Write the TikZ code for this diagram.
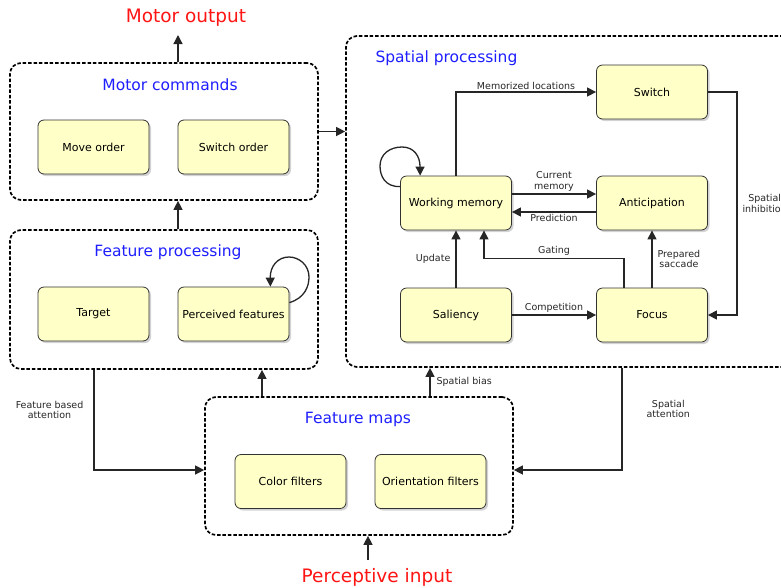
\documentclass[tikz,border=0pt]{standalone}
\usepackage{fontspec}
\setmainfont{DejaVu Sans}
\usetikzlibrary{arrows.meta,shadows,positioning,calc}
\definecolor{boxfill}{RGB}{255,255,200}
\definecolor{boxdraw}{RGB}{50,50,50}
\definecolor{ttlblue}{RGB}{30,30,255}
\definecolor{ioRed}{RGB}{255,20,20}
\tikzset{
  unitbox/.style={draw=boxdraw, line width=0.8pt, fill=boxfill, rounded corners=6pt,
    minimum width=111pt, minimum height=54pt, font=\fontsize{11}{13}\selectfont,
    drop shadow={opacity=0.35, shadow xshift=2pt, shadow yshift=-2pt}},
  group/.style={draw=black, line width=1.7pt, dash pattern=on 3.5pt off 1.9pt, rounded corners=11pt, inner sep=0pt},
  grouptitle/.style={text=ttlblue, font=\fontsize{15.5}{18}\selectfont},
  iotext/.style={text=ioRed, font=\fontsize{18.5}{22}\selectfont},
  arr/.style={-{Triangle[length=9pt,width=9pt]}, line width=1.3pt, draw=black!85},
  lbl/.style={font=\fontsize{9.5}{10.5}\selectfont, text=black!85, inner sep=2pt},
}
\begin{document}
\begin{tikzpicture}[x=1pt,y=1pt]
\useasboundingbox (0,0) rectangle (781,-587);
% groups
\node[group, minimum width=308pt, minimum height=137pt] (mc) at (164,-131.5) {};
\node[group, minimum width=308pt, minimum height=139pt] (fp) at (164,-299.5) {};
\node[group, minimum width=454pt, minimum height=331pt] (sp) at (573,-201.5) {};
\node[group, minimum width=308pt, minimum height=138pt] (fm) at (359,-466) {};
% titles
\node[grouptitle] (mct) at (170,-85) {Motor commands};
\node[grouptitle] (fpt) at (168,-252) {Feature processing};
\node[grouptitle, anchor=west] (spt) at (372,-58) {Spatial processing};
\node[grouptitle] (fmt) at (358,-419) {Feature maps};
\node[iotext] (mo) at (186,-18) {Motor output};
\node[iotext] (pi) at (377,-577) {Perceptive input};
% unit boxes
\node[unitbox] (move) at (93.5,-147) {Move order};
\node[unitbox] (swo) at (233.5,-147) {Switch order};
\node[unitbox] (tg) at (93.5,-314) {Target};
\node[unitbox] (pf) at (233.5,-314) {Perceived features};
\node[unitbox] (cf) at (290.5,-481.5) {Color filters};
\node[unitbox] (of) at (430.5,-481.5) {Orientation filters};
\node[unitbox] (sw) at (652,-92) {Switch};
\node[unitbox] (wm) at (456,-203) {Working memory};
\node[unitbox] (an) at (652,-203) {Anticipation};
\node[unitbox] (sal) at (456,-315) {Saliency};
\node[unitbox] (fo) at (652,-315) {Focus};
% io arrows
\coordinate (mout) at (178,-35);
\draw[arr] (mout |- mc.north) -- (mout);
\coordinate (pin) at (368,-560);
\draw[arr] (pin) -- (pin |- fm.south);
% between groups
\draw[arr] ([xshift=14pt]fp.north) -- ([xshift=14pt]mc.south);
\draw[arr] (mc.east) -- (mc.east -| sp.west);
\draw[arr] ([xshift=-97pt]fm.north) -- ([xshift=-97pt]fm.north |- fp.south);
\draw[arr] ([xshift=71pt]fm.north) -- ([xshift=71pt]fm.north |- sp.south)
  node[lbl, midway, right=4pt] {Spatial bias};
\draw[arr] ([xshift=-70pt]fp.south) |- ([yshift=-4pt]fm.west)
  node[lbl, pos=0.2, left=8pt, align=center] {Feature based\\attention};
\draw[arr] ([xshift=49pt]sp.south) |- ([yshift=-4pt]fm.east)
  node[lbl, pos=0.2, right=22pt, align=center] {Spatial\\attention};
% self loops
\draw[arr] ([yshift=-16pt]pf.north east) .. controls (305,-298) and (309,-286) .. (309,-277)
  .. controls (309,-265) and (299,-257) .. (289,-257)
  .. controls (278,-257) and (270,-266) .. ([xshift=-19pt]pf.north east);
\draw[arr] ([yshift=-11pt]wm.north west) .. controls (385,-187) and (380,-176) .. (380,-166)
  .. controls (380,-154) and (390,-147) .. (402,-147)
  .. controls (414,-147) and (420,-156) .. ([xshift=20pt]wm.north west);
% spatial processing
\draw[arr] (wm.north) |- (sw.west) node[lbl, pos=0.75, above] {Memorized locations};
\draw[arr] ([yshift=9pt]wm.east) -- ([yshift=9pt]an.west)
  node[lbl, midway, above, align=center] {Current\\memory};
\draw[arr] ([yshift=-9pt]an.west) -- ([yshift=-9pt]wm.east)
  node[lbl, midway, below] {Prediction};
\draw[arr] (sal.north) -- (wm.south) node[lbl, midway, left=3pt] {Update};
\draw[arr] ([xshift=-28pt]fo.north) -- ++(0,29) -| ([xshift=28pt]wm.south)
  node[lbl, pos=0.25, above] {Gating};
\draw[arr] (fo.north) -- (an.south) node[lbl, midway, right=3pt, align=center] {Prepared\\saccade};
\draw[arr] (sal.east) -- (fo.west) node[lbl, midway, above] {Competition};
\draw[arr] (sw.east) -- ++(29,0) |- (fo.east)
  node[lbl, pos=0.25, right=3pt, align=center] {Spatial\\inhibition};
\end{tikzpicture}
\end{document}
